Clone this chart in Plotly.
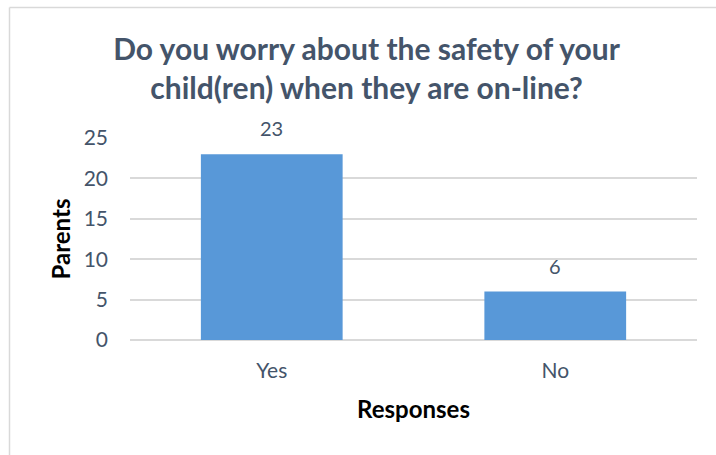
import plotly.graph_objects as go

# Survey answers and counts
responses = ["Yes", "No"]
parents = [23, 6]
y_ticks = [0, 5, 10, 15, 20, 25]

W, H = 716, 455
M_L, M_R, M_T, M_B = 130, 19, 138, 115
TXT = "#44546A"
GRID = "#D9D9D9"
FONT = "Lato, 'Open Sans', sans-serif"

fig = go.Figure()
fig.add_trace(go.Bar(
    x=responses,
    y=parents,
    width=0.5,
    marker=dict(color="#5898D8", line=dict(width=0)),
    hoverinfo="skip",
))

# Value labels above each bar
for cat, val in zip(responses, parents):
    fig.add_annotation(
        x=cat, y=val, text=str(val), showarrow=False,
        yanchor="bottom", yshift=12,
        font=dict(family=FONT, size=20, color=TXT),
    )

# Chart frame: thin light border along the top and left edges
plot_w = W - M_L - M_R
plot_h = H - M_T - M_B
px_left = (9.5 - M_L) / plot_w
py_top = (H - M_B - 7.5) / plot_h
fig.add_shape(type="line", xref="paper", yref="paper",
              x0=px_left, x1=(W + 5 - M_L) / plot_w, y0=py_top, y1=py_top,
              line=dict(color=GRID, width=1.5))
fig.add_shape(type="line", xref="paper", yref="paper",
              x0=px_left, x1=px_left, y0=py_top, y1=-(M_B + 5) / plot_h,
              line=dict(color=GRID, width=1.5))

fig.update_layout(
    width=W, height=H,
    margin=dict(l=M_L, r=M_R, t=M_T, b=M_B),
    paper_bgcolor="white",
    plot_bgcolor="white",
    showlegend=False,
    title=dict(
        text="<b>Do you worry about the safety of your<br>child(ren) when they are on-line?</b>",
        font=dict(family=FONT, size=30, color=TXT),
        x=0.512, xanchor="center",
        yref="container", y=1 - 60 / H, yanchor="top",
    ),
    xaxis=dict(
        showgrid=False,
        showline=False,
        ticks="",
        ticklabelstandoff=16,
        tickfont=dict(family=FONT, size=21, color=TXT),
        title=dict(text="<b>Responses</b>", font=dict(family=FONT, size=24, color="black"), standoff=20),
    ),
    yaxis=dict(
        range=[0, 25],
        tickvals=y_ticks,
        showgrid=True,
        gridcolor=GRID,
        gridwidth=1.5,
        zeroline=True,
        zerolinecolor=GRID,
        zerolinewidth=1.5,
        ticks="",
        ticklabelstandoff=21,
        tickfont=dict(family=FONT, size=21, color=TXT),
        title=dict(text="<b>Parents</b>", font=dict(family=FONT, size=24, color="black"), standoff=6),
    ),
    bargap=0.5,
)

fig.write_html("out.html")
